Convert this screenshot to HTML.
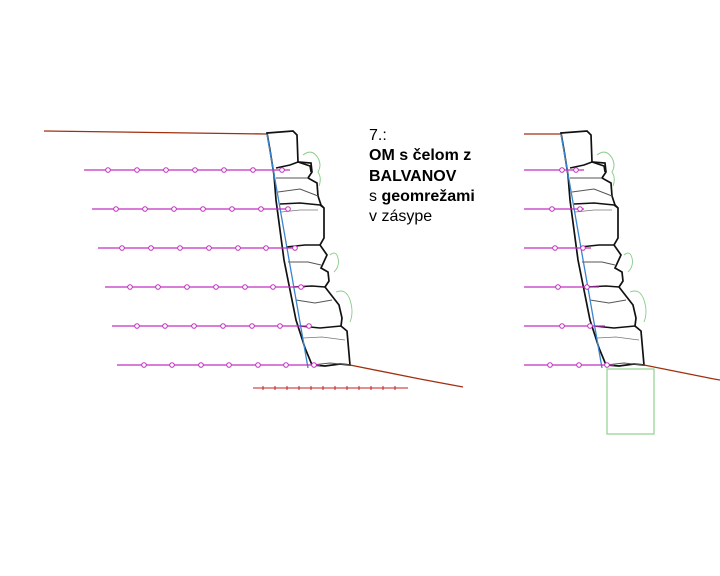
<!DOCTYPE html>
<html><head><meta charset="utf-8"><style>
html,body{margin:0;padding:0;background:#fff;}
svg{display:block;}
text{font-family:"Liberation Sans",Arial,sans-serif;font-size:16px;fill:#000;}
</style></head><body>
<svg width="720" height="576" viewBox="0 0 720 576" xmlns="http://www.w3.org/2000/svg">
<defs>
<g id="wall">
  <path d="M267,133 L293,131 L297,135 L298,162 L311,163 L312,172 L308,178 L317,183 L318,196 L321,205 L324,208 L324,238 L320,245 L327,255 L321,268 L328,272 L329,281 L325,287 L332,296 L339,305 L342,318 L341,326 L347,331 L350,365 L340,364 L325,366 L312,365 L305,348 L296,320 L290,290 L284,260 L280,230 L276,200 L274,175 L270,150 Z" fill="#fff" stroke="#111" stroke-width="1.7"/>
  <path d="M298,162 L310,166 L311,172 M276,168 L290,165 L298,162" fill="none" stroke="#111" stroke-width="1.5"/>
  <path d="M276,178 L295,178 L308,178 M278,192 L300,189 L318,196" fill="none" stroke="#555" stroke-width="1"/>
  <path d="M280,204 L300,203 L320,205 L324,208" fill="none" stroke="#111" stroke-width="1.5"/>
  <path d="M281,212 L300,210 L318,210" fill="none" stroke="#777" stroke-width="0.8"/>
  <path d="M286,247 L305,245 L320,245" fill="none" stroke="#111" stroke-width="1.5"/>
  <path d="M288,262 L308,262 L321,265" fill="none" stroke="#555" stroke-width="1"/>
  <path d="M293,287 L312,286 L325,287" fill="none" stroke="#111" stroke-width="1.5"/>
  <path d="M296,300 L315,303 L332,300" fill="none" stroke="#555" stroke-width="1"/>
  <path d="M300,326 L320,328 L341,326" fill="none" stroke="#111" stroke-width="1.5"/>
  <path d="M303,338 L322,337 L345,340" fill="none" stroke="#777" stroke-width="0.8"/>
  <path d="M312,365 L330,363 L350,365" fill="none" stroke="#555" stroke-width="1"/>
  <path d="M303,155 Q312,148 318,158 Q322,165 318,172 Q322,178 319,186" fill="none" stroke="#8c8" stroke-width="0.9"/>
  <path d="M330,255 Q336,250 338,258 Q340,266 334,272" fill="none" stroke="#8c8" stroke-width="0.9"/>
  <path d="M336,292 Q346,288 350,300 Q354,312 350,322" fill="none" stroke="#8c8" stroke-width="0.9"/>
  <line x1="267" y1="134" x2="308" y2="368" stroke="#3a85d0" stroke-width="1.3"/>
  <line x1="350" y1="365" x2="420" y2="379" stroke="#a03010" stroke-width="1.3"/>
</g>
<g id="c"><circle r="2.3" fill="#fff" stroke="#c030c0" stroke-width="1"/></g>
</defs>

<line x1="44" y1="131" x2="267" y2="134" stroke="#a03010" stroke-width="1.3"/>
<use href="#wall"/>
<line x1="420" y1="379" x2="463" y2="387" stroke="#a03010" stroke-width="1.3"/>
<g stroke="#c030c0" stroke-width="1.2">
<line x1="84" y1="170" x2="290" y2="170"/>
<line x1="92" y1="209" x2="290" y2="209"/>
<line x1="98" y1="248" x2="297" y2="248"/>
<line x1="105" y1="287" x2="305" y2="287"/>
<line x1="112" y1="326" x2="311" y2="326"/>
<line x1="117" y1="365" x2="320" y2="365"/>
</g>
<g>
<use href="#c" x="108" y="170"/><use href="#c" x="137" y="170"/><use href="#c" x="166" y="170"/><use href="#c" x="195" y="170"/><use href="#c" x="224" y="170"/><use href="#c" x="253" y="170"/><use href="#c" x="282" y="170"/>
<use href="#c" x="116" y="209"/><use href="#c" x="145" y="209"/><use href="#c" x="174" y="209"/><use href="#c" x="203" y="209"/><use href="#c" x="232" y="209"/><use href="#c" x="261" y="209"/><use href="#c" x="288" y="209"/>
<use href="#c" x="122" y="248"/><use href="#c" x="151" y="248"/><use href="#c" x="180" y="248"/><use href="#c" x="209" y="248"/><use href="#c" x="238" y="248"/><use href="#c" x="266" y="248"/><use href="#c" x="295" y="248"/>
<use href="#c" x="130" y="287"/><use href="#c" x="158" y="287"/><use href="#c" x="187" y="287"/><use href="#c" x="216" y="287"/><use href="#c" x="245" y="287"/><use href="#c" x="273" y="287"/><use href="#c" x="301" y="287"/>
<use href="#c" x="137" y="326"/><use href="#c" x="165" y="326"/><use href="#c" x="194" y="326"/><use href="#c" x="223" y="326"/><use href="#c" x="252" y="326"/><use href="#c" x="280" y="326"/><use href="#c" x="309" y="326"/>
<use href="#c" x="144" y="365"/><use href="#c" x="172" y="365"/><use href="#c" x="201" y="365"/><use href="#c" x="229" y="365"/><use href="#c" x="258" y="365"/><use href="#c" x="286" y="365"/><use href="#c" x="314" y="365"/>
</g>
<line x1="253" y1="388" x2="408" y2="388" stroke="#c02020" stroke-width="1"/>
<g stroke="#c02020" stroke-width="1">
<line x1="263" y1="386" x2="263" y2="390"/><line x1="275" y1="386" x2="275" y2="390"/><line x1="287" y1="386" x2="287" y2="390"/><line x1="299" y1="386" x2="299" y2="390"/><line x1="311" y1="386" x2="311" y2="390"/><line x1="323" y1="386" x2="323" y2="390"/><line x1="335" y1="386" x2="335" y2="390"/><line x1="347" y1="386" x2="347" y2="390"/><line x1="359" y1="386" x2="359" y2="390"/><line x1="371" y1="386" x2="371" y2="390"/><line x1="383" y1="386" x2="383" y2="390"/><line x1="395" y1="386" x2="395" y2="390"/>
</g>

<text x="369" y="140">7.:</text>
<text x="369" y="160" font-weight="bold">OM s čelom z</text>
<text x="369" y="181" font-weight="bold">BALVANOV</text>
<text x="369" y="201">s <tspan font-weight="bold">geomrežami</tspan></text>
<text x="369" y="221">v zásype</text>

<line x1="524" y1="134" x2="561" y2="134" stroke="#a03010" stroke-width="1.3"/>
<use href="#wall" x="294" y="0"/>
<line x1="714" y1="379" x2="720" y2="380" stroke="#a03010" stroke-width="1.3"/>
<g stroke="#c030c0" stroke-width="1.2">
<line x1="524" y1="170" x2="584" y2="170"/>
<line x1="524" y1="209" x2="584" y2="209"/>
<line x1="524" y1="248" x2="591" y2="248"/>
<line x1="524" y1="287" x2="599" y2="287"/>
<line x1="524" y1="326" x2="605" y2="326"/>
<line x1="524" y1="365" x2="614" y2="365"/>
</g>
<use href="#c" x="562" y="170"/><use href="#c" x="576" y="170"/>
<use href="#c" x="552" y="209"/><use href="#c" x="580" y="209"/>
<use href="#c" x="555" y="248"/><use href="#c" x="583" y="248"/>
<use href="#c" x="558" y="287"/><use href="#c" x="587" y="287"/>
<use href="#c" x="562" y="326"/><use href="#c" x="590" y="326"/>
<use href="#c" x="550" y="365"/><use href="#c" x="579" y="365"/><use href="#c" x="607" y="365"/>
<rect x="607" y="369" width="47" height="65" fill="none" stroke="#90d090" stroke-width="1.2"/>
</svg>
</body></html>
